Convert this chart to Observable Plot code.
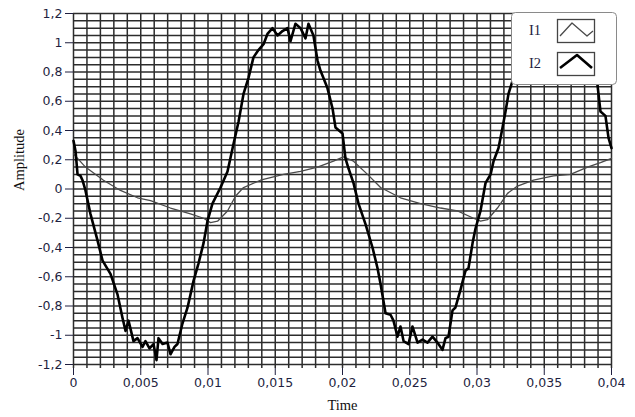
<!DOCTYPE html>
<html>
<head>
<meta charset="utf-8">
<script src="https://cdn.jsdelivr.net/npm/d3@7"></script>
<script src="https://cdn.jsdelivr.net/npm/@observablehq/plot@0.6"></script>
<style>
  html, body { margin: 0; padding: 0; background: #fff; }
  #wrap { position: relative; width: 635px; height: 417px; }
</style>
</head>
<body>
<div id="wrap"></div>
<script>
// ---- data ----
const seriesNames = ["I1", "I2"];

const i1Time = [0, 0.00089, 0.00223, 0.00349, 0.00476, 0.00573, 0.00721, 0.0087, 0.00967, 0.01019, 0.01071, 0.01145, 0.01204, 0.01264, 0.0139, 0.01561, 0.01688, 0.01814, 0.01933, 0.02007, 0.02082, 0.02186, 0.02283, 0.02431, 0.0258, 0.02729, 0.02855, 0.02974, 0.03026, 0.03078, 0.03152, 0.03227, 0.03301, 0.0342, 0.03569, 0.03695, 0.03822, 0.03918, 0.04];
const i1Value = [0.24, 0.15, 0.06, -0.01, -0.06, -0.08, -0.13, -0.17, -0.20, -0.23, -0.22, -0.15, -0.05, 0.01, 0.06, 0.10, 0.12, 0.15, 0.19, 0.22, 0.19, 0.10, 0.01, -0.06, -0.10, -0.13, -0.15, -0.20, -0.22, -0.21, -0.13, -0.03, 0.02, 0.06, 0.09, 0.10, 0.15, 0.18, 0.21];

const i2Time = [0, 0.00015, 0.0003, 0.00052, 0.00067, 0.00089, 0.00126, 0.00178, 0.00216, 0.00275, 0.00327, 0.00364, 0.00387, 0.00409, 0.00446, 0.00476, 0.00513, 0.00535, 0.00565, 0.00595, 0.00617, 0.00632, 0.00662, 0.00699, 0.00721, 0.00751, 0.00773, 0.0081, 0.00848, 0.00892, 0.00929, 0.00967, 0.00996, 0.01033, 0.01093, 0.01145, 0.0119, 0.01227, 0.01264, 0.01301, 0.01338, 0.01375, 0.01413, 0.01442, 0.0148, 0.01517, 0.01554, 0.01591, 0.01613, 0.0165, 0.01688, 0.01725, 0.01747, 0.01784, 0.01814, 0.01836, 0.01888, 0.01926, 0.01948, 0.02, 0.02022, 0.02045, 0.02082, 0.02119, 0.02171, 0.02223, 0.0226, 0.02283, 0.0232, 0.02357, 0.02379, 0.02409, 0.02431, 0.02454, 0.02491, 0.0252, 0.02558, 0.02595, 0.02632, 0.02669, 0.02706, 0.02743, 0.02766, 0.02788, 0.02818, 0.0284, 0.02877, 0.02914, 0.02937, 0.02967, 0.02989, 0.03026, 0.03063, 0.03101, 0.03123, 0.0316, 0.0319, 0.03212, 0.03234, 0.03264, 0.03323, 0.03398, 0.03472, 0.03584, 0.03695, 0.03807, 0.03859, 0.03896, 0.03918, 0.03955, 0.03978, 0.04];
const i2Value = [0.33, 0.26, 0.10, 0.09, 0.06, -0.01, -0.17, -0.35, -0.49, -0.58, -0.72, -0.88, -0.97, -0.90, -1.04, -1.02, -1.08, -1.04, -1.09, -1.06, -1.17, -1.02, -1.06, -1.05, -1.13, -1.08, -1.06, -0.92, -0.81, -0.63, -0.51, -0.37, -0.22, -0.10, 0.01, 0.12, 0.31, 0.46, 0.65, 0.76, 0.90, 0.95, 0.99, 1.06, 1.10, 1.05, 1.08, 1.10, 1.01, 1.13, 1.10, 1.03, 1.13, 1.05, 0.88, 0.81, 0.69, 0.55, 0.42, 0.38, 0.21, 0.14, 0.04, -0.10, -0.24, -0.40, -0.54, -0.65, -0.85, -0.86, -0.90, -1.01, -0.94, -1.04, -1.06, -0.94, -1.05, -1.03, -1.05, -1.01, -1.05, -1.10, -1.02, -1.01, -0.83, -0.81, -0.69, -0.56, -0.54, -0.37, -0.27, -0.15, 0.04, 0.10, 0.19, 0.28, 0.42, 0.53, 0.65, 0.74, 0.90, 1.02, 1.08, 1.10, 1.08, 1.00, 0.85, 0.71, 0.53, 0.50, 0.35, 0.28];

const xTicks = [0, 0.005, 0.01, 0.015, 0.02, 0.025, 0.03, 0.035, 0.04];
const yTicks = [-1.2, -1, -0.8, -0.6, -0.4, -0.2, 0, 0.2, 0.4, 0.6, 0.8, 1, 1.2];
const xTitle = "Time";
const yTitle = "Amplitude";

// ---- build ----
const i1 = i1Time.map((t, k) => ({t, v: i1Value[k]}));
const i2 = i2Time.map((t, k) => ({t, v: i2Value[k]}));
const xGrid = d3.range(0, 41).map(k => k / 1000);
const yGrid = d3.range(-24, 25).map(k => k / 20);
const fmt = d => String(d).replace(".", ",");
const labelColor = "#1f1f3f";
const gridColor = "#2c2c2c";

const chart = Plot.plot({
  width: 635,
  height: 417,
  marginLeft: 73,
  marginRight: 24,
  marginTop: 13,
  marginBottom: 49,
  insetBottom: 4,
  style: {fontFamily: "DejaVu Sans", fontSize: "12.5px", background: "#fff", overflow: "visible"},
  x: {domain: [0, 0.04]},
  y: {domain: [-1.2, 1.2]},
  marks: [
    Plot.ruleX(xGrid, {stroke: gridColor, strokeWidth: 1.5}),
    Plot.ruleY(yGrid, {stroke: gridColor, strokeWidth: 1.5}),
    Plot.line(i1, {x: "t", y: "v", stroke: "#4a4a4a", strokeWidth: 1.3}),
    Plot.line(i2, {x: "t", y: "v", stroke: "#000", strokeWidth: 2.6, strokeLinejoin: "round"}),
    Plot.axisX({ticks: xTicks, tickFormat: fmt, tickSize: 7, tickPadding: 3, color: labelColor, label: null}),
    Plot.axisY({ticks: yTicks, tickFormat: fmt, tickSize: 8, tickPadding: 3, color: labelColor, label: null}),
    Plot.text([xTitle], {frameAnchor: "bottom", dy: 41, fontFamily: "Liberation Serif", fontSize: 14.5, fill: "#111"}),
    Plot.text([yTitle], {frameAnchor: "left", dx: -54, rotate: -90, fontFamily: "Liberation Serif", fontSize: 14.5, fill: "#111"})
  ]
});

const wrap = document.getElementById("wrap");
wrap.appendChild(chart);

// ---- legend overlay ----
const leg = d3.create("svg").attr("width", 106).attr("height", 73)
  .style("position", "absolute").style("left", "511px").style("top", "12px");
leg.append("rect").attr("x", 0.5).attr("y", 0.5).attr("width", 105).attr("height", 72)
  .attr("rx", 4).attr("fill", "#fff").attr("stroke", "#8a8a8a").attr("stroke-width", 1);
const styles = [
  {stroke: "#4a4a4a", width: 1.3, pts: [[3, 17], [15, 4], [30, 17], [36, 12]]},
  {stroke: "#000", width: 2.6, pts: [[3, 16], [20, 3], [35, 16]]}
];
seriesNames.forEach((name, k) => {
  const top = 7 + k * 33;
  leg.append("text").attr("x", 24).attr("y", top + 16).attr("text-anchor", "middle")
    .attr("font-family", "Liberation Serif").attr("font-size", 14.5).attr("fill", labelColor).text(name);
  const g = leg.append("g").attr("transform", `translate(46,${top})`);
  g.append("rect").attr("x", 0.5).attr("y", 0.5).attr("width", 37).attr("height", 23)
    .attr("fill", "#fff").attr("stroke", "#444").attr("stroke-width", 1.3);
  g.append("polyline").attr("points", styles[k].pts.map(p => p.join(",")).join(" "))
    .attr("fill", "none").attr("stroke", styles[k].stroke).attr("stroke-width", styles[k].width)
    .attr("stroke-linejoin", "round");
});
wrap.appendChild(leg.node());
</script>
</body>
</html>
